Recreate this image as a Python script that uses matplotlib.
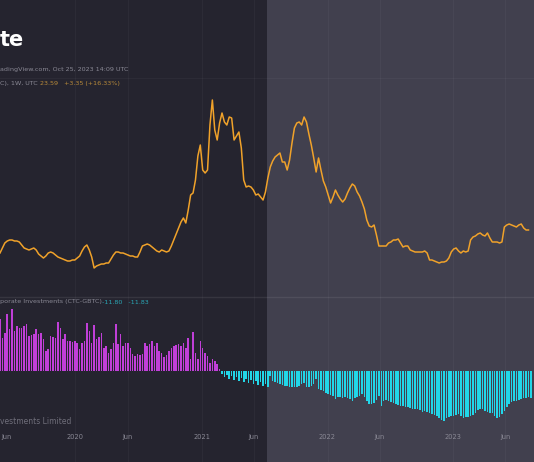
import matplotlib
matplotlib.use("Agg")
import matplotlib.pyplot as plt
import matplotlib.patches as patches
import pandas as pd

# weekly closes, Jun 2019 - Aug 2023
price = [47, 52, 57, 59, 60, 60, 59, 59, 58, 55, 52, 51, 50, 51, 52, 50, 46, 44, 42, 44,
         47, 48, 47, 45, 43, 42, 41, 40, 39, 39, 40, 40, 42, 44, 49, 53, 55, 50, 43, 32,
         34, 35, 36, 36, 37, 37, 41, 45, 48, 48, 47, 47, 46, 45, 44, 44, 43, 43, 48, 54,
         55, 56, 55, 53, 51, 49, 48, 50, 49, 48, 49, 54, 60, 66, 72, 78, 82, 77, 90, 105,
         107, 120, 144, 155, 130, 127, 130, 175, 200, 170, 160, 177, 187, 178, 175, 183, 182, 160, 164, 168,
         152, 120, 113, 114, 113, 110, 105, 106, 103, 100, 108, 122, 133, 139, 143, 145, 147, 138, 138, 130,
         140, 157, 172, 177, 178, 175, 183, 178, 166, 155, 142, 128, 142, 130, 119, 113, 105, 97, 103, 110,
         105, 101, 98, 101, 107, 112, 116, 114, 108, 104, 98, 91, 80, 74, 73, 75, 65, 54, 54, 54,
         54, 57, 58, 60, 60, 61, 57, 53, 54, 54, 50, 49, 48, 48, 48, 48, 49, 47, 40, 40,
         39, 38, 37, 38, 38, 39, 42, 48, 51, 52, 49, 47, 49, 48, 49, 60, 63, 64, 66, 67,
         65, 64, 67, 62, 58, 58, 58, 57, 58, 73, 75, 76, 75, 74, 73, 75, 76, 72, 70, 70]

# weekly premium / discount histogram
premium = [52, 33, 38, 57, 42, 62, 40, 45, 43, 43, 45, 47, 35, 36, 37, 42, 37, 38, 32, 20,
           22, 35, 34, 33, 49, 43, 32, 37, 30, 30, 29, 30, 28, 22, 28, 30, 48, 40, 28, 46,
           32, 34, 38, 23, 25, 18, 22, 28, 47, 27, 37, 25, 28, 28, 23, 17, 15, 17, 16, 17,
           28, 25, 27, 30, 25, 28, 20, 18, 14, 16, 20, 23, 25, 26, 27, 25, 28, 23, 33, 12,
           39, 18, 12, 30, 23, 18, 15, 8, 12, 10, 7, 2,
           -3, -6, -4, -8, -5, -9, -6, -10, -7, -11, -8, -12, -9, -13, -10, -14, -11, -15, -13,
           -16, -5, -10, -11, -12, -13, -14, -15, -15, -16, -16, -16, -16, -15, -13, -12, -16, -16, -15, -13,
           -8, -18, -19, -20, -22, -23, -24, -25, -28, -26, -26, -27, -26, -27, -28, -30, -27, -26, -25, -23,
           -26, -30, -33, -33, -32, -29, -25, -35, -30, -29, -30, -31, -32, -33, -34, -35, -35, -36, -36, -37,
           -38, -38, -38, -39, -41, -40, -41, -42, -43, -44, -45, -47, -49, -50, -47, -46, -45, -45, -44, -43,
           -45, -47, -46, -46, -45, -44, -42, -39, -38, -38, -40, -41, -42, -42, -45, -47, -46, -43, -40, -36,
           -33, -31, -30, -30, -29, -28, -27, -27, -26, -27]

weeks = pd.date_range("2019-05-27", periods=len(premium), freq="W-MON")
tick_dates = ["2019-06-01", "2020-01-01", "2020-06-01", "2021-01-01", "2021-06-01",
              "2022-01-01", "2022-06-01", "2023-01-01", "2023-06-01"]
tick_labels = ["Jun", "2020", "Jun", "2021", "Jun", "2022", "Jun", "2023", "Jun"]

dark_bg = "#25242f"
light_bg = "#41404e"
txt = "#8a8995"

fig = plt.figure(figsize=(5.34, 4.62), dpi=100)
fig.patch.set_facecolor(dark_bg)
fig.patches.append(patches.Rectangle((0.5, 0), 0.5, 1, transform=fig.transFigure,
                                     facecolor=light_bg, edgecolor="none", zorder=-5))

H = 462.0
ax1 = fig.add_axes([0, (H - 296) / H, 1, 296 / H])
ax2 = fig.add_axes([0, 0, 1, 166 / H])
xlim = (pd.Timestamp("2019-05-27"), pd.Timestamp("2023-08-23"))
for ax in (ax1, ax2):
    ax.set_zorder(2)
    ax.set_facecolor("none")
    ax.set_xlim(*xlim)
    for s in ax.spines.values():
        s.set_visible(False)
    ax.set_xticks([])
    ax.set_yticks([])
    for d in tick_dates[1:]:
        ax.axvline(pd.Timestamp(d), color="white", alpha=0.035, lw=0.8, zorder=0)

# price pane
ax1.set_ylim(4, 300)
ax1.axhline(222, color="white", alpha=0.035, lw=0.8)
ax1.plot(weeks[:len(price)], price, color="#f0a22a", lw=1.1)

# histogram pane
ax2.set_ylim(-91, 75)
cols = ["#c03fd8" if v >= 0 else "#22d6e8" for v in premium]
ax2.bar(weeks, premium, width=4.5, color=cols, linewidth=0)
ax2.axhline(74.5, color="white", alpha=0.08, lw=1)

# titles and labels
fig.text(0.0, (H - 40) / H, "te", color="white", fontsize=15, fontweight="bold", va="center")
fig.text(0.0, (H - 70) / H, "adingView.com, Oct 25, 2023 14:09 UTC", color=txt,
         fontsize=4.6, va="center")
fig.text(0.0, (H - 83) / H, "C), 1W, UTC", color=txt, fontsize=4.6, va="center")
fig.text(40 / 534, (H - 83) / H, "23.59   +3.35 (+16.33%)", color="#b88a3a",
         fontsize=4.6, va="center")
fig.text(0.0, (H - 302) / H, "porate Investments (CTC-GBTC)", color=txt,
         fontsize=4.6, va="center")
fig.text(102 / 534, (H - 302) / H, "-11.80   -11.83", color="#2aa6b5",
         fontsize=4.6, va="center")
fig.text(0.0, (H - 421) / H, "vestments Limited", color="#6f6e7a", fontsize=5.5, va="center")

tr = ax2.get_xaxis_transform()
for i, (d, lab) in enumerate(zip(tick_dates, tick_labels)):
    if i == 0:
        ax2.text(0.002, 25 / 166, lab, transform=ax2.transAxes, color=txt, fontsize=4.8,
                 ha="left", va="center")
    else:
        ax2.text(pd.Timestamp(d), 25 / 166, lab, transform=tr, color=txt, fontsize=4.8,
                 ha="center", va="center")

plt.savefig("out.png", dpi=100, facecolor=fig.get_facecolor())
